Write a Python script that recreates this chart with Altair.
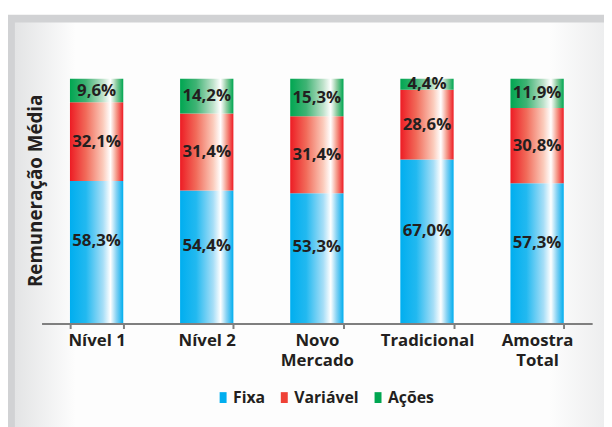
import altair as alt
import pandas as pd

categories = ["Nível 1", "Nível 2", "Novo\nMercado", "Tradicional", "Amostra\nTotal"]
fixa = [58.3, 54.4, 53.3, 67.0, 57.3]
variavel = [32.1, 31.4, 31.4, 28.6, 30.8]
acoes = [9.6, 14.2, 15.3, 4.4, 11.9]
series_names = ["Fixa", "Variável", "Ações"]
series_colors = ["#00aeef", "#ef4136", "#00a651"]

FONT = "Open Sans"
TXT = "#231f20"


def seg_table(name, vals, base):
    return pd.DataFrame({
        "cat": categories,
        "serie": name,
        "value": vals,
        "y0": base,
        "y1": [b + v for b, v in zip(base, vals)],
    })


base0 = [0.0] * len(categories)
t_fixa = seg_table("Fixa", fixa, base0)
t_var = seg_table("Variável", variavel, list(t_fixa["y1"]))
t_aco = seg_table("Ações", acoes, list(t_var["y1"]))
for t in (t_fixa, t_var, t_aco):
    t["mid"] = (t["y0"] + t["y1"]) / 2
    t["label"] = [f"{v:.1f}".replace(".", ",") + "%" for v in t["value"]]
allt = pd.concat([t_fixa, t_var, t_aco], ignore_index=True)


def grad(c_main, c_mid, c_light, c_back):
    return alt.LinearGradient(
        gradient="linear", x1=0, x2=1, y1=0, y2=0,
        stops=[
            alt.GradientStop(color=c_main, offset=0),
            alt.GradientStop(color=c_mid, offset=0.3),
            alt.GradientStop(color=c_light, offset=0.62),
            alt.GradientStop(color="#ffffff", offset=0.76),
            alt.GradientStop(color=c_back, offset=0.87),
            alt.GradientStop(color=c_main, offset=1),
        ],
    )


g_blue = grad("#00aeef", "#22b9f0", "#a6def7", "#86d2f3")
g_red = grad("#ed1c24", "#f16b5a", "#fbcbbb", "#f59c8c")
g_green = grad("#00a651", "#3fb374", "#bfe2cb", "#8fcca1")

X = alt.X("cat:N", sort=categories, title=None,
          scale=alt.Scale(paddingInner=0.516, paddingOuter=0.258),
          axis=alt.Axis(labelExpr="split(datum.label, '\\n')", labelAngle=0,
                        labelFont=FONT, labelFontSize=17, labelFontWeight="bold",
                        labelColor=TXT, labelLineHeight=21, labelPadding=4,
                        domainColor="#7f7f7f", domainWidth=2, tickColor="#7f7f7f",
                        tickWidth=2, tickSize=5, tickBand="extent", zindex=1))
Yscale = alt.Scale(domain=[0, 100], nice=False, zero=True)

W, H = 558, 248

frame_data = alt.Data(values=[{"k": 1}])
outer = alt.Chart(frame_data).mark_rect(fill="#d1d2d4").encode(
    x=alt.value(-35), x2=alt.value(W + 30), y=alt.value(-65), y2=alt.value(H + 120))
inner = alt.Chart(frame_data).mark_rect(fill=alt.LinearGradient(
    gradient="linear", x1=0, x2=1, y1=0, y2=0,
    stops=[alt.GradientStop(color="#e3e4e5", offset=0),
           alt.GradientStop(color="#fdfdfd", offset=0.1),
           alt.GradientStop(color="#fdfdfd", offset=0.88),
           alt.GradientStop(color="#e8e9ea", offset=1)])).encode(
    x=alt.value(-27), x2=alt.value(W + 30), y=alt.value(-57), y2=alt.value(H + 120))


def bars(t, g):
    return alt.Chart(t).mark_bar(fill=g).encode(
        x=X,
        y=alt.Y("y0:Q", scale=Yscale,
                axis=alt.Axis(title="Remuneração Média", labels=False, ticks=False,
                              domain=False, grid=False, titleFont=FONT,
                              titleFontSize=19, titleFontWeight="bold",
                              titleColor=TXT, titlePadding=-4, titleY=113,
                              titleAlign="center", zindex=1)),
        y2="y1:Q",
    )


def texts(t, dy):
    return alt.Chart(t).mark_text(font=FONT, fontSize=17, fontWeight="bold",
                                  color=TXT, dy=dy).encode(
        x=alt.X("cat:N", sort=categories),
        y=alt.Y("mid:Q", scale=Yscale),
        text="label:N",
    )


legend_layer = alt.Chart(allt).mark_square(opacity=0).encode(
    x=alt.X("cat:N", sort=categories),
    y=alt.Y("mid:Q", scale=Yscale),
    color=alt.Color("serie:N", sort=series_names,
                    scale=alt.Scale(domain=series_names, range=series_colors),
                    legend=alt.Legend(title=None, orient="none", direction="horizontal",
                                      legendX=176, legendY=315,
                                      symbolType="M-0.64,-1H0.64V1H-0.64Z",
                                      symbolSize=121, symbolOpacity=1,
                                      symbolStrokeWidth=0, labelFont=FONT,
                                      labelFontSize=16, labelFontWeight="bold",
                                      labelColor=TXT, labelOffset=2,
                                      columnPadding=11, padding=0)),
)

chart = alt.layer(
    outer, inner,
    bars(t_fixa, g_blue), bars(t_var, g_red), bars(t_aco, g_green),
    texts(t_fixa, -11), texts(t_var, 0), texts(t_aco, 0),
    legend_layer,
).properties(
    width=W, height=H,
    autosize=alt.AutoSizeParams(type="none"),
    padding={"left": 34, "top": 69, "right": 12, "bottom": 102},
    background="white",
).configure_view(stroke="transparent")

chart.save("out.html", embed_options={"renderer": "svg", "actions": False})
